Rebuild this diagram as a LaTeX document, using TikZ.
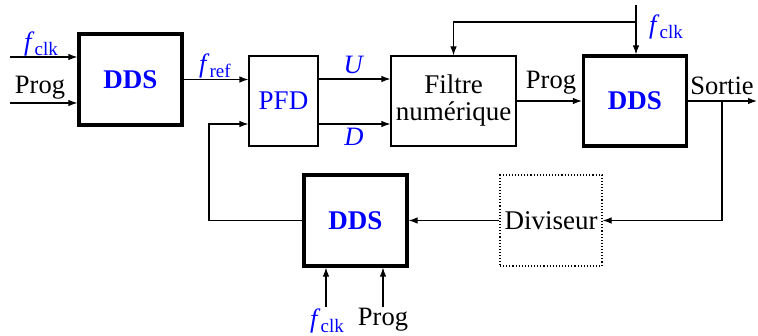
\documentclass[tikz,border=0pt]{standalone}
\usepackage{fontspec}
\setmainfont{Liberation Serif}
\usetikzlibrary{arrows.meta}
\newcommand{\mysub}[1]{\textit{f}\raisebox{-0.18em}{\fontsize{19}{21}\selectfont #1}}
\definecolor{myblue}{RGB}{0,0,255}
\begin{document}
\begin{tikzpicture}[x=1pt,y=-1pt,
  lbl/.style={font=\fontsize{26.5}{30}\selectfont, inner sep=0pt},
  blbl/.style={lbl, text=myblue},
  ddsbox/.style={draw, line width=3.2pt, minimum width=103pt, minimum height=91pt, inner sep=0pt,
     font=\fontsize{27}{30}\selectfont\bfseries, text=myblue},
  thinbox/.style={draw, line width=1.1pt, minimum height=90pt, inner sep=0pt,
     font=\fontsize{27}{30}\selectfont, align=center},
  arr/.style={-{Latex[length=9pt,width=6.5pt]}, line width=1.1pt}
]
\useasboundingbox (0,0) rectangle (758,336);

% boxes
\node[ddsbox] (dds1) at (130.5,79.5) {DDS};
\node[thinbox, minimum width=69pt, text=myblue] (pfd) at (283.5,101) {PFD};
\node[thinbox, minimum width=125pt] (filt) at (453.5,101) {Filtre\\[-3pt]numérique};
\node[ddsbox, minimum height=90pt] (dds2) at (635,101) {DDS};
\node[thinbox, dotted, minimum width=102pt, minimum height=91pt] (div) at (551,220.5) {Diviseur};
\node[ddsbox] (dds3) at (355.5,220.5) {DDS};

% coordinates
\coordinate (in1) at (10,57);
\coordinate (in2) at (10,103);
\coordinate (fb) at (209,124);
\coordinate (ck2) at (636,5);
\coordinate (jn) at (636,22);
\coordinate (out) at (757,101);
\coordinate (sp) at (722,101);
\coordinate (ck3) at (326,307);
\coordinate (pr3) at (383,307);

% connectors
\draw[arr] (in1) -- (in1 -| dds1.west);
\draw[arr] (in2) -- (in2 -| dds1.west);
\draw[arr] (dds1.east) -- (dds1.east -| pfd.west);
\draw[arr] ([yshift=22pt]pfd.east) -- ([yshift=22pt]pfd.east -| filt.west);
\draw[arr] ([yshift=-23pt]pfd.east) -- ([yshift=-23pt]pfd.east -| filt.west);
\draw[arr] (filt.east) -- (dds2.west);
\draw[arr] (ck2) -- (ck2 |- dds2.north);
\draw[arr] (jn) -| (filt.north);
\draw[arr] (dds2.east) -- (out);
\draw[arr] (sp) |- (div.east);
\draw[arr] (div.west) -- (dds3.east);
\draw[arr] (dds3.west) -| (fb) -- (fb -| pfd.west);
\draw[arr] (ck3) -- (ck3 |- dds3.south);
\draw[arr] (pr3) -- (pr3 |- dds3.south);

% labels
\node[blbl] (l1) at (41,44) {\mysub{clk}};
\node[lbl] (l2) at (40,88) {Prog};
\node[blbl] (l3) at (215,66) {\mysub{ref}};
\node[blbl] (lu) at (354,65) {\textit{U}};
\node[blbl] (ld) at (354,137) {\textit{D}};
\node[lbl] (l4) at (551,83) {Prog};
\node[blbl] (l5) at (666,27) {\mysub{clk}};
\node[lbl] (l6) at (722,86) {Sortie};
\node[blbl] (l7) at (327,321) {\mysub{clk}};
\node[lbl] (l8) at (383,320) {Prog};
\end{tikzpicture}
\end{document}
